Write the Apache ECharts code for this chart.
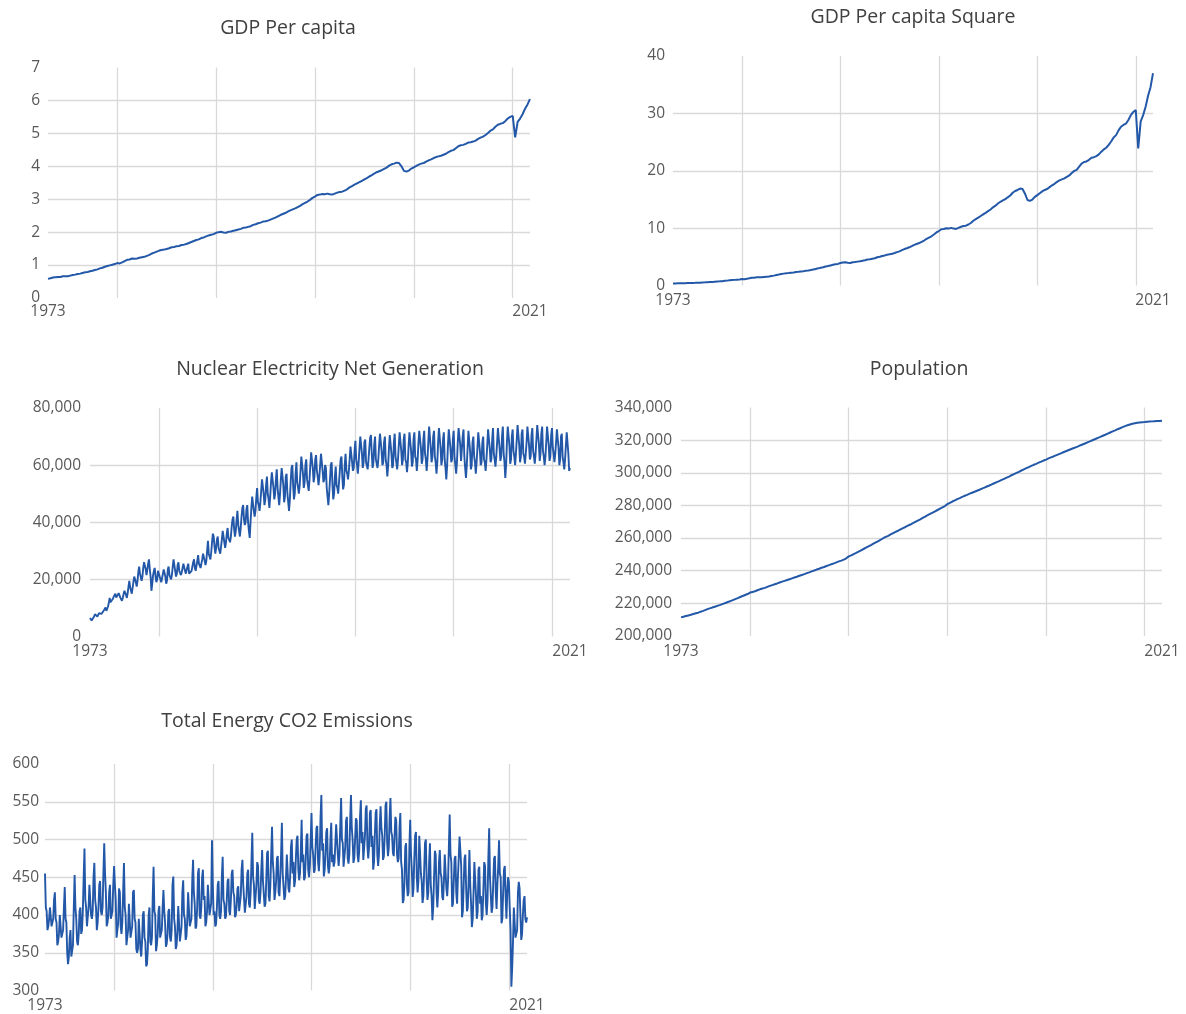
<!DOCTYPE html>
<html>
<head>
<meta charset="utf-8">
<script src="https://cdn.jsdelivr.net/npm/echarts@6/dist/echarts.min.js"></script>
<style>
html,body{margin:0;padding:0;background:#fff;}
#chart{width:1186px;height:1014px;}
</style>
</head>
<body>
<div id="chart"></div>
<script>
// ---- category settings ----
const firstYear = 1973;
const lastYear = 2021;
const lastMonthOfLastYear = 11;          // monthly series end in Nov 2021
const quarterMonths = ['01', '04', '07', '10'];
const gridYears = ['1980', '1990', '2000', '2010', '2020'];
const xLabelYears = ['1973', '2021'];

// ---- chart titles ----
const titles = ['GDP Per capita', 'GDP Per capita Square', 'Nuclear Electricity Net Generation', 'Population', 'Total Energy CO2 Emissions'];

// ---- quarterly series (one row per year: Jan, Apr, Jul, Oct) ----
const gdpPerCapita = [
  0.58,0.60,0.62,0.63, 0.64,0.64,0.66,0.66, 0.66,0.68,0.70,0.71, 0.73,0.74,0.76,0.78,
  0.79,0.81,0.83,0.85, 0.87,0.90,0.92,0.95, 0.97,0.99,1.01,1.03, 1.06,1.05,1.08,1.12,
  1.16,1.17,1.20,1.19, 1.20,1.22,1.24,1.25, 1.28,1.31,1.35,1.38, 1.41,1.44,1.46,1.47,
  1.49,1.51,1.54,1.55, 1.57,1.58,1.61,1.62, 1.64,1.67,1.70,1.73, 1.76,1.78,1.82,1.84,
  1.87,1.90,1.92,1.94, 1.98,2.00,2.01,1.99, 1.98,2.01,2.02,2.04, 2.06,2.08,2.10,2.13,
  2.14,2.16,2.18,2.22, 2.24,2.27,2.29,2.32, 2.33,2.35,2.38,2.41, 2.44,2.48,2.52,2.55,
  2.58,2.62,2.66,2.69, 2.72,2.76,2.80,2.85, 2.89,2.93,2.98,3.04, 3.08,3.13,3.14,3.16,
  3.15,3.17,3.15,3.14, 3.17,3.20,3.22,3.23, 3.26,3.30,3.36,3.40, 3.44,3.48,3.52,3.56,
  3.60,3.64,3.69,3.73, 3.78,3.82,3.85,3.88, 3.92,3.96,4.02,4.06, 4.08,4.11,4.10,4.00,
  3.86,3.84,3.87,3.93, 3.97,4.01,4.05,4.08, 4.10,4.14,4.18,4.21, 4.25,4.28,4.30,4.32,
  4.35,4.38,4.43,4.47, 4.49,4.55,4.61,4.64, 4.65,4.68,4.72,4.73, 4.75,4.78,4.83,4.87,
  4.90,4.95,5.01,5.08, 5.12,5.20,5.26,5.29, 5.31,5.37,5.45,5.50, 5.53,4.88,5.35,5.45,
  5.58,5.75,5.88,6.04
];
const gdpPerCapitaSquare = [
  0.34,0.36,0.38,0.40, 0.41,0.41,0.44,0.44, 0.44,0.46,0.49,0.50, 0.53,0.55,0.58,0.61,
  0.62,0.66,0.69,0.72, 0.76,0.81,0.85,0.90, 0.94,0.98,1.02,1.06, 1.12,1.10,1.17,1.25,
  1.35,1.37,1.44,1.42, 1.44,1.49,1.54,1.56, 1.64,1.72,1.82,1.90, 1.99,2.07,2.13,2.16,
  2.22,2.28,2.37,2.40, 2.46,2.50,2.59,2.62, 2.69,2.79,2.89,2.99, 3.10,3.17,3.31,3.39,
  3.50,3.61,3.69,3.76, 3.92,4.00,4.04,3.96, 3.92,4.04,4.08,4.16, 4.24,4.33,4.41,4.54,
  4.58,4.67,4.75,4.93, 5.02,5.15,5.24,5.38, 5.43,5.52,5.66,5.81, 5.95,6.15,6.35,6.50,
  6.66,6.86,7.08,7.24, 7.40,7.62,7.84,8.12, 8.35,8.58,8.88,9.24, 9.49,9.80,9.86,9.99,
  9.92,10.05,9.92,9.86, 10.05,10.24,10.37,10.43, 10.63,10.89,11.29,11.56, 11.83,12.11,12.39,12.67,
  12.96,13.25,13.62,13.91, 14.29,14.59,14.82,15.05, 15.37,15.68,16.16,16.48, 16.65,16.89,16.81,16.00,
  14.90,14.75,14.98,15.44, 15.76,16.08,16.40,16.65, 16.81,17.14,17.47,17.72, 18.06,18.32,18.49,18.66,
  18.92,19.18,19.62,19.98, 20.16,20.70,21.25,21.53, 21.62,21.90,22.28,22.37, 22.56,22.85,23.33,23.72,
  24.01,24.50,25.10,25.81, 26.21,27.04,27.67,27.98, 28.20,28.84,29.70,30.25, 30.58,23.90,28.62,29.70,
  31.14,33.06,34.57,37.00
];
const population = [
  211400,211800,212200,212600, 213000,213500,213900,214300, 214900,215400,216000,216600, 217100,217600,218100,218600,
  219100,219700,220200,220800, 221400,222000,222600,223200, 223900,224500,225100,225700, 226600,227000,227400,228000,
  228600,229100,229500,230100, 230700,231200,231700,232200, 232800,233300,233800,234300, 234800,235300,235800,236300,
  236900,237400,237900,238500, 239000,239600,240100,240700, 241200,241800,242300,242900, 243400,244000,244500,245100,
  245700,246200,246800,247600, 248800,249400,250200,250900, 251700,252500,253300,254100, 254900,255700,256600,257400,
  258200,259000,259900,260700, 261400,262200,263000,263800, 264500,265300,266100,266800, 267600,268300,269100,269900,
  270700,271500,272400,273200, 274000,274800,275600,276400, 277200,278000,278800,279600, 280800,281600,282400,283100,
  283900,284500,285200,285900, 286500,287200,287800,288400, 289000,289600,290300,290900, 291600,292200,292900,293600,
  294300,294900,295600,296300, 297000,297700,298500,299200, 299900,300600,301400,302100, 302800,303500,304200,304900,
  305500,306200,306800,307500, 308100,308800,309400,310000, 310700,311300,311900,312600, 313200,313800,314400,315000,
  315600,316200,316900,317500, 318100,318800,319400,320100, 320700,321400,322000,322700, 323300,324000,324700,325400,
  326000,326700,327300,328000, 328600,329100,329600,330000, 330300,330600,330800,331000, 331100,331300,331400,331500,
  331600,331700,331800,331900
];

// ---- monthly series (one row per year, Jan..Dec; 2021 ends in Nov) ----
// Nuclear electricity net generation, thousand GWh
const nuclearGeneration = [
  6.5,5.8,5.6,5.5,6.2,7.0,7.8,8.0,7.2,7.0,7.5,8.2,
  8.5,7.6,7.9,7.8,8.6,9.2,9.8,10.2,9.0,9.5,10.5,11.8,
  13.5,12.0,12.6,12.0,13.2,14.0,14.5,15.0,13.6,13.0,13.8,15.2,
  15.5,13.6,14.0,12.5,13.5,14.8,16.0,16.5,14.6,13.5,15.2,17.5,
  19.5,17.2,16.8,15.0,17.0,19.0,21.0,21.5,19.0,17.5,19.5,22.5,
  24.5,22.0,22.5,19.5,21.0,24.0,26.0,26.5,23.5,21.5,22.0,25.5,
  27.0,23.5,21.0,16.0,18.5,21.5,23.0,24.0,21.0,19.0,20.0,23.0,
  22.5,21.0,21.5,19.0,20.5,22.0,23.5,24.0,21.0,18.5,19.5,23.5,
  24.5,21.5,21.0,20.0,21.5,24.5,27.0,26.5,23.0,21.0,22.0,25.0,
  26.0,23.0,22.5,21.5,22.5,24.0,25.5,26.0,23.0,22.0,22.5,24.5,
  25.5,22.0,22.5,21.5,23.0,24.5,26.0,27.0,24.0,23.0,23.5,26.5,
  28.5,25.5,25.0,24.0,25.5,27.0,29.0,29.5,26.5,25.0,26.5,30.0,
  33.5,29.0,28.5,27.0,29.5,33.0,36.0,35.0,31.5,29.0,31.0,34.0,
  35.0,31.0,30.5,29.0,31.5,34.0,37.0,37.5,33.0,31.0,33.0,36.0,
  38.0,34.5,34.0,33.0,35.0,38.5,41.0,42.0,37.5,35.0,37.0,41.0,
  44.0,39.0,37.0,35.0,38.0,42.0,45.0,46.0,41.0,39.0,40.0,44.5,
  46.0,40.0,37.0,34.5,40.0,45.0,49.0,49.5,44.0,42.0,44.0,48.5,
  52.0,47.0,46.0,44.0,47.0,51.0,55.0,55.5,50.0,46.0,48.0,53.0,
  56.0,50.0,48.0,45.0,49.0,54.0,57.5,58.0,52.0,48.0,50.0,55.0,
  58.5,52.0,49.0,46.0,50.0,55.0,59.0,59.5,53.0,47.0,49.0,56.0,
  57.0,50.0,47.0,44.0,48.0,54.0,59.0,60.0,53.0,48.0,50.0,57.0,
  61.0,54.0,52.0,50.0,53.0,58.0,63.0,63.5,57.0,52.0,54.0,60.0,
  62.0,55.0,53.0,51.0,55.0,60.0,64.5,65.0,59.0,54.0,56.0,62.0,
  63.5,58.0,56.0,53.0,56.0,60.0,64.0,64.5,58.0,54.0,55.0,60.0,
  59.0,52.0,49.0,46.0,50.0,55.0,60.0,61.0,53.0,48.0,50.0,56.0,
  59.5,53.0,52.0,50.0,54.0,58.0,62.0,63.0,56.0,51.5,53.0,60.0,
  64.0,58.0,57.0,55.0,58.0,62.0,66.5,67.0,61.0,58.0,59.0,65.0,
  68.5,62.0,60.0,57.0,61.0,66.0,70.0,70.5,64.0,59.0,61.0,68.0,
  69.0,61.0,61.0,58.5,62.0,66.0,69.5,70.5,64.0,59.0,61.0,67.0,
  70.0,62.0,62.0,59.0,62.0,67.0,71.0,71.5,65.0,60.0,61.0,68.0,
  70.0,62.0,60.0,56.0,60.0,66.0,70.5,70.0,64.0,59.0,60.0,68.0,
  71.0,63.0,61.0,58.5,62.0,67.0,71.5,72.0,65.0,60.0,62.0,69.0,
  71.0,62.0,61.0,57.5,61.0,67.0,71.5,72.0,65.0,59.5,61.0,69.0,
  71.5,63.0,62.0,58.0,62.0,68.0,72.0,72.5,66.0,60.5,62.0,69.0,
  72.0,64.0,62.0,58.0,62.0,68.0,73.5,73.0,66.0,61.0,63.0,70.0,
  72.0,63.0,61.0,57.0,61.0,68.0,73.0,73.5,66.0,60.0,62.0,69.0,
  71.5,62.0,59.0,55.0,60.0,67.0,72.5,73.0,66.0,61.0,62.0,69.0,
  72.0,63.0,60.0,57.0,61.0,68.0,73.0,73.5,67.0,61.5,62.0,70.0,
  72.5,63.0,59.0,55.5,60.0,66.0,72.0,72.5,65.0,58.5,60.0,68.0,
  70.0,63.0,61.0,57.0,61.0,66.0,71.5,72.0,65.0,60.0,61.0,68.0,
  70.0,62.0,61.0,58.0,62.0,67.0,72.5,73.0,66.0,61.0,62.0,69.0,
  73.0,64.0,62.0,59.5,63.0,68.0,73.0,73.5,66.0,61.5,63.0,70.0,
  73.5,64.0,61.0,55.5,60.0,68.0,73.5,74.0,67.0,60.5,62.0,70.0,
  72.5,65.0,63.0,60.0,64.0,69.0,74.0,74.5,67.0,61.0,63.0,71.0,
  72.5,64.0,63.0,60.5,64.0,68.0,73.5,74.0,67.0,62.0,63.0,70.5,
  73.0,65.0,63.0,60.5,64.0,69.0,74.0,74.5,67.5,61.5,64.0,71.0,
  73.5,65.0,63.0,60.0,63.0,68.0,73.5,74.0,67.0,61.5,63.0,70.5,
  73.0,66.0,64.0,61.0,64.0,68.0,72.5,73.0,66.0,60.0,62.0,70.0,
  71.0,63.0,61.0,58.5,62.0,67.0,71.5,72.0,64.0,58.0,59.0
];
// Total energy CO2 emissions, million metric tons
const co2Emissions = [
  455,410,405,380,385,395,410,412,385,385,395,420,
  430,395,390,360,365,375,400,402,370,370,380,410,
  437,395,390,350,335,345,370,380,345,345,360,410,
  453,410,395,365,360,375,405,410,375,380,405,450,
  488,420,410,385,385,410,440,440,400,395,405,450,
  469,420,410,380,390,410,440,445,405,400,410,455,
  495,455,430,385,390,400,430,440,395,395,405,440,
  465,440,420,370,370,390,435,430,385,375,390,430,
  469,410,400,360,360,380,415,415,370,370,385,430,
  433,395,390,355,350,355,395,395,355,345,365,400,
  405,370,365,332,335,355,400,410,365,360,370,425,
  464,405,400,352,360,375,405,412,370,370,380,410,
  433,405,390,358,362,375,405,408,370,365,380,440,
  451,395,385,355,360,380,412,410,365,365,385,430,
  446,400,395,367,372,395,430,432,385,385,395,445,
  473,430,415,382,385,410,455,462,400,395,410,450,
  460,420,425,385,390,405,440,442,400,400,415,499,
  440,400,405,385,388,410,440,445,400,395,405,450,
  477,420,415,395,398,420,445,448,405,400,420,455,
  460,430,425,397,400,412,435,438,405,405,425,460,
  473,440,440,403,405,425,455,460,415,410,430,470,
  509,450,440,408,410,440,470,465,420,415,430,460,
  486,445,445,411,415,445,482,485,425,418,440,480,
  517,470,455,420,430,445,475,478,430,425,450,480,
  522,455,455,420,425,450,480,482,435,430,450,490,
  500,455,470,437,445,475,500,505,460,446,455,485,
  526,470,480,446,450,475,505,508,460,450,465,500,
  535,490,480,456,460,490,515,518,470,458,480,530,
  559,485,495,451,460,480,510,515,465,455,465,500,
  522,470,480,464,470,495,520,522,480,465,480,520,
  555,500,495,464,465,490,525,530,475,468,480,525,
  559,515,500,469,475,500,528,525,480,470,485,530,
  552,495,510,473,475,505,540,545,490,475,490,535,
  539,490,505,460,470,505,535,540,480,465,480,520,
  544,515,505,473,478,505,545,550,495,478,490,530,
  555,510,505,482,478,505,530,525,480,470,475,515,
  535,470,460,416,420,445,490,495,440,425,430,490,
  526,480,460,424,435,475,505,510,450,430,445,505,
  482,455,445,416,425,460,495,500,445,420,430,470,
  495,440,425,393,410,450,485,480,430,410,430,470,
  486,455,450,424,420,445,480,478,435,425,445,490,
  533,480,470,411,415,445,475,478,430,415,450,475,
  504,485,465,397,405,440,475,480,435,405,410,445,
  486,440,415,384,395,430,470,472,425,395,405,460,
  464,415,425,393,400,435,470,465,415,400,420,475,
  515,450,450,403,410,445,475,478,430,408,440,465,
  499,455,450,389,395,430,460,465,425,395,430,450,
  443,410,380,305,330,365,410,412,370,370,380,430,
  444,435,400,367,375,400,420,425,395,390,397
];

// ---- build categories ----
const quarterCats = [];
const monthCats = [];
for (let y = firstYear; y <= lastYear; y++) {
  quarterMonths.forEach(m => quarterCats.push(y + '-' + m));
  const lastM = (y === lastYear) ? lastMonthOfLastYear : 12;
  for (let m = 1; m <= lastM; m++) monthCats.push(y + '-' + (m < 10 ? '0' + m : m));
}

const LABEL_COLOR = '#595959';
const TITLE_COLOR = '#404040';
const GRID_COLOR = '#d9d9d9';
const LINE_COLOR = '#2358a8';
const FONT = '"Open Sans", "Noto Sans", sans-serif';

const addCommas = v => v.toString().replace(/\B(?=(\d{3})+(?!\d))/g, ',');

const panels = [
  {title: titles[0], data: gdpPerCapita, cats: quarterCats, min: 0, max: 7, interval: 1, fmt: addCommas, lw: 2,
   grid: {left: 48, top: 67.5, width: 482, height: 230.5}, tx: 288, ty: 28, lm: 8, xm: 6},
  {title: titles[1], data: gdpPerCapitaSquare, cats: quarterCats, min: 0, max: 40, interval: 10, fmt: addCommas, lw: 2,
   grid: {left: 673, top: 56, width: 480, height: 229.5}, tx: 913, ty: 17, lm: 8, xm: 7},
  {title: titles[2], data: nuclearGeneration, cats: monthCats, min: 0, max: 80, interval: 20, fmt: v => addCommas(Math.round(v * 1000)), lw: 1.9,
   grid: {left: 90, top: 408, width: 480, height: 228.5}, tx: 330, ty: 369, lm: 9, xm: 7},
  {title: titles[3], data: population, cats: quarterCats, min: 200000, max: 340000, interval: 20000, fmt: addCommas, lw: 2,
   grid: {left: 681, top: 407.5, width: 481, height: 228.5}, tx: 919, ty: 369, lm: 9, xm: 8},
  {title: titles[4], data: co2Emissions, cats: monthCats, min: 300, max: 600, interval: 50, fmt: addCommas, lw: 1.9,
   grid: {left: 45, top: 764, width: 482, height: 226.5}, tx: 287, ty: 721, lm: 6, xm: 7}
];

const option = {
  animation: false,
  backgroundColor: '#fff',
  graphic: panels.map(p => ({
    type: 'text', x: p.tx, y: p.ty,
    style: {text: p.title, fill: TITLE_COLOR, font: '19.5px ' + FONT, textAlign: 'center', textVerticalAlign: 'middle'}
  })),
  grid: panels.map(p => Object.assign({containLabel: false}, p.grid)),
  xAxis: panels.map((p, i) => ({
    type: 'category', gridIndex: i, data: p.cats, boundaryGap: false,
    axisLine: {show: false}, axisTick: {show: false},
    axisLabel: {
      interval: (idx) => idx === 0 || idx === p.cats.length - 1,
      formatter: (v) => { const y = v.slice(0, 4); return xLabelYears.indexOf(y) >= 0 ? y : ''; },
      color: LABEL_COLOR, fontFamily: FONT, fontSize: 15.5, margin: p.xm
    },
    splitLine: {
      show: true,
      interval: (idx) => gridYears.some(y => p.cats[idx] === y + '-01'),
      lineStyle: {color: GRID_COLOR, width: 1.3}
    }
  })),
  yAxis: panels.map((p, i) => ({
    type: 'value', gridIndex: i, min: p.min, max: p.max, interval: p.interval,
    axisLine: {show: false}, axisTick: {show: false},
    axisLabel: {color: LABEL_COLOR, fontFamily: FONT, fontSize: 15.5, margin: p.lm, formatter: p.fmt},
    splitLine: {show: true, showMinLine: false, showMaxLine: false, lineStyle: {color: GRID_COLOR, width: 1.3}}
  })),
  series: panels.map((p, i) => ({
    type: 'line', xAxisIndex: i, yAxisIndex: i, data: p.data,
    showSymbol: false, symbol: 'none', sampling: null,
    lineStyle: {color: LINE_COLOR, width: p.lw},
    emphasis: {disabled: true}
  }))
};

const chart = echarts.init(document.getElementById('chart'), null, {renderer: 'canvas'});
chart.setOption(option);
</script>
</body>
</html>
